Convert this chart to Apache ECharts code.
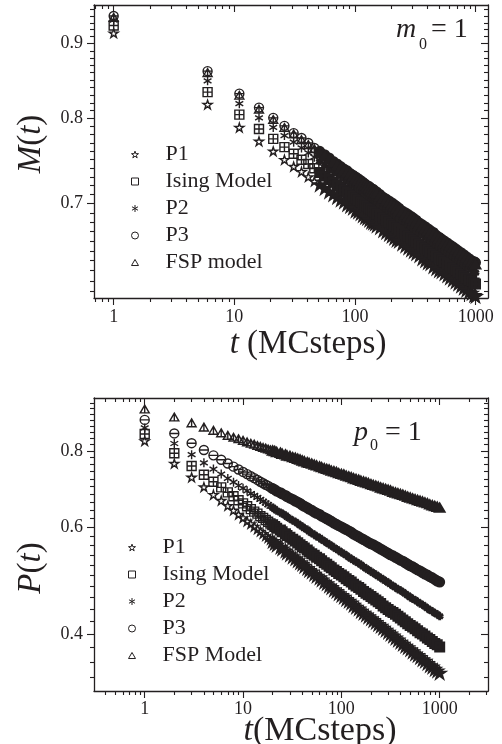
<!DOCTYPE html>
<html>
<head>
<meta charset="utf-8">
<script src="https://cdn.jsdelivr.net/npm/echarts@6/dist/echarts.min.js"></script>
<style>
html, body { margin: 0; padding: 0; background: #fff; }
#chart { width: 502px; height: 744px; }
</style>
</head>
<body>
<div id="chart"></div>
<script>
// ---- upper panel: M(t), m0 = 1 (t in MC steps) ----
const tM = [1, 6, 11, 16, 21, 26, 31, 36, 41, 46, 51, 56, 61, 66, 71, 76, 81, 86, 91, 96,
    101, 106, 111, 116, 121, 126, 131, 136, 141, 146, 151, 161, 171, 181, 191, 201, 211, 221, 231, 246,
    261, 276, 291, 306, 321, 341, 361, 381, 401, 421, 446, 471, 496, 521, 551, 581, 611, 646, 681, 716,
    756, 796, 836, 881, 926, 971, 996];
const mP1 = [
    0.915, 0.818, 0.789, 0.772, 0.760, 0.750, 0.742, 0.736, 0.730, 0.725,
    0.721, 0.717, 0.713, 0.710, 0.707, 0.704, 0.702, 0.699, 0.697, 0.695,
    0.692, 0.691, 0.689, 0.687, 0.685, 0.684, 0.682, 0.680, 0.679, 0.678,
    0.676, 0.674, 0.671, 0.669, 0.667, 0.665, 0.663, 0.661, 0.660, 0.657,
    0.655, 0.653, 0.651, 0.649, 0.647, 0.645, 0.642, 0.640, 0.638, 0.637,
    0.634, 0.632, 0.630, 0.629, 0.627, 0.625, 0.623, 0.621, 0.619, 0.617,
    0.615, 0.613, 0.611, 0.609, 0.608, 0.606, 0.605];
const mIsing = [
    0.926, 0.834, 0.805, 0.787, 0.775, 0.765, 0.757, 0.750, 0.745, 0.740,
    0.735, 0.731, 0.727, 0.724, 0.721, 0.718, 0.715, 0.713, 0.710, 0.708,
    0.706, 0.704, 0.702, 0.700, 0.699, 0.697, 0.695, 0.694, 0.692, 0.691,
    0.689, 0.687, 0.684, 0.682, 0.680, 0.678, 0.676, 0.674, 0.672, 0.670,
    0.668, 0.665, 0.663, 0.661, 0.659, 0.657, 0.655, 0.653, 0.651, 0.649,
    0.647, 0.645, 0.643, 0.641, 0.639, 0.637, 0.635, 0.633, 0.631, 0.629,
    0.627, 0.625, 0.623, 0.621, 0.620, 0.618, 0.617];
const mP2 = [
    0.934, 0.849, 0.819, 0.801, 0.789, 0.779, 0.771, 0.764, 0.758, 0.753,
    0.748, 0.744, 0.740, 0.737, 0.734, 0.731, 0.728, 0.726, 0.723, 0.721,
    0.719, 0.717, 0.715, 0.713, 0.711, 0.709, 0.708, 0.706, 0.705, 0.703,
    0.702, 0.699, 0.697, 0.694, 0.692, 0.690, 0.688, 0.686, 0.684, 0.682,
    0.680, 0.677, 0.675, 0.673, 0.671, 0.669, 0.667, 0.665, 0.663, 0.661,
    0.658, 0.656, 0.654, 0.652, 0.650, 0.648, 0.646, 0.644, 0.642, 0.640,
    0.638, 0.636, 0.634, 0.633, 0.631, 0.629, 0.628];
const mP3 = [
    0.940, 0.862, 0.832, 0.814, 0.801, 0.791, 0.782, 0.776, 0.770, 0.764,
    0.760, 0.756, 0.752, 0.748, 0.745, 0.742, 0.739, 0.737, 0.734, 0.732,
    0.730, 0.728, 0.726, 0.724, 0.722, 0.720, 0.719, 0.717, 0.716, 0.714,
    0.713, 0.710, 0.707, 0.705, 0.703, 0.701, 0.699, 0.697, 0.695, 0.692,
    0.690, 0.688, 0.686, 0.684, 0.682, 0.679, 0.677, 0.675, 0.673, 0.671,
    0.669, 0.666, 0.664, 0.662, 0.660, 0.658, 0.656, 0.654, 0.652, 0.650,
    0.648, 0.646, 0.644, 0.642, 0.640, 0.639, 0.638];
const mFSP = [
    0.938, 0.860, 0.830, 0.812, 0.799, 0.789, 0.781, 0.774, 0.768, 0.763,
    0.758, 0.754, 0.750, 0.747, 0.743, 0.740, 0.738, 0.735, 0.733, 0.730,
    0.728, 0.726, 0.724, 0.722, 0.720, 0.719, 0.717, 0.715, 0.714, 0.712,
    0.711, 0.708, 0.706, 0.703, 0.701, 0.699, 0.697, 0.695, 0.693, 0.691,
    0.688, 0.686, 0.684, 0.682, 0.680, 0.678, 0.675, 0.673, 0.671, 0.669,
    0.667, 0.665, 0.663, 0.661, 0.659, 0.657, 0.655, 0.653, 0.651, 0.649,
    0.647, 0.645, 0.643, 0.641, 0.639, 0.637, 0.636];

// ---- lower panel: P(t), p0 = 1 ----
const tP = [1, 2, 3, 4, 5, 6, 7, 8, 9, 10, 11, 12, 13, 14, 15, 16, 17, 18, 19, 20,
    21, 22, 24, 25, 27, 28, 30, 32, 34, 36,
    38, 40, 42, 45, 47, 50, 53, 56, 60, 63,
    67, 71, 75, 79, 84, 89, 94, 100, 106, 112,
    119, 126, 133, 141, 150, 158, 168, 178, 188, 200,
    211, 224, 237, 251, 266, 282, 299, 316, 335, 355,
    376, 398, 422, 447, 473, 501, 531, 562, 596, 631,
    668, 708, 750, 794, 841, 891, 944, 1000];
const pP1 = [
    0.831, 0.763, 0.724, 0.698, 0.678, 0.663, 0.650, 0.639, 0.629, 0.621,
    0.613, 0.607, 0.601, 0.595, 0.590, 0.585, 0.580, 0.576, 0.572, 0.568,
    0.564, 0.560, 0.556, 0.552, 0.548, 0.544, 0.540, 0.536, 0.532, 0.528,
    0.524, 0.521, 0.517, 0.513, 0.509, 0.506, 0.502, 0.498, 0.495, 0.491,
    0.487, 0.484, 0.480, 0.477, 0.473, 0.470, 0.466, 0.463, 0.460, 0.456,
    0.453, 0.450, 0.446, 0.443, 0.440, 0.436, 0.433, 0.430, 0.427, 0.424,
    0.421, 0.418, 0.415, 0.412, 0.409, 0.406, 0.403, 0.400, 0.397, 0.394,
    0.391, 0.388, 0.385, 0.382, 0.380, 0.377, 0.374, 0.371, 0.369, 0.366,
    0.363, 0.361, 0.358, 0.355, 0.353, 0.350, 0.348, 0.345];
const pIsing = [
    0.853, 0.793, 0.756, 0.731, 0.712, 0.697, 0.684, 0.674, 0.664, 0.656,
    0.649, 0.642, 0.636, 0.631, 0.625, 0.621, 0.616, 0.612, 0.608, 0.605,
    0.601, 0.597, 0.593, 0.589, 0.585, 0.581, 0.577, 0.573, 0.569, 0.565,
    0.561, 0.557, 0.554, 0.550, 0.546, 0.542, 0.539, 0.535, 0.532, 0.528,
    0.524, 0.521, 0.517, 0.514, 0.510, 0.507, 0.503, 0.500, 0.497, 0.493,
    0.490, 0.487, 0.483, 0.480, 0.477, 0.474, 0.470, 0.467, 0.464, 0.461,
    0.458, 0.455, 0.452, 0.449, 0.445, 0.442, 0.439, 0.436, 0.434, 0.431,
    0.428, 0.425, 0.422, 0.419, 0.416, 0.413, 0.411, 0.408, 0.405, 0.402,
    0.400, 0.397, 0.394, 0.392, 0.389, 0.386, 0.384, 0.381];
const pP2 = [
    0.873, 0.823, 0.789, 0.765, 0.747, 0.733, 0.721, 0.711, 0.702, 0.695,
    0.688, 0.681, 0.676, 0.671, 0.666, 0.661, 0.657, 0.653, 0.649, 0.646,
    0.642, 0.638, 0.634, 0.631, 0.627, 0.623, 0.619, 0.615, 0.612, 0.608,
    0.604, 0.601, 0.597, 0.594, 0.590, 0.586, 0.583, 0.579, 0.576, 0.572,
    0.569, 0.565, 0.562, 0.559, 0.555, 0.552, 0.549, 0.545, 0.542, 0.539,
    0.535, 0.532, 0.529, 0.526, 0.523, 0.520, 0.516, 0.513, 0.510, 0.507,
    0.504, 0.501, 0.498, 0.495, 0.492, 0.489, 0.486, 0.483, 0.480, 0.477,
    0.474, 0.472, 0.469, 0.466, 0.463, 0.460, 0.457, 0.455, 0.452, 0.449,
    0.447, 0.444, 0.441, 0.438, 0.436, 0.433, 0.431, 0.428];
const pP3 = [
    0.900, 0.855, 0.824, 0.803, 0.787, 0.774, 0.763, 0.754, 0.746, 0.739,
    0.733, 0.727, 0.722, 0.717, 0.712, 0.708, 0.704, 0.701, 0.697, 0.694,
    0.691, 0.687, 0.683, 0.680, 0.676, 0.673, 0.669, 0.666, 0.662, 0.659,
    0.656, 0.652, 0.649, 0.645, 0.642, 0.639, 0.635, 0.632, 0.629, 0.625,
    0.622, 0.619, 0.616, 0.613, 0.609, 0.606, 0.603, 0.600, 0.597, 0.594,
    0.591, 0.588, 0.584, 0.581, 0.578, 0.575, 0.572, 0.569, 0.566, 0.563,
    0.561, 0.558, 0.555, 0.552, 0.549, 0.546, 0.543, 0.540, 0.538, 0.535,
    0.532, 0.529, 0.527, 0.524, 0.521, 0.518, 0.516, 0.513, 0.510, 0.508,
    0.505, 0.502, 0.500, 0.497, 0.495, 0.492, 0.489, 0.487];
const pFSP = [
    0.938, 0.910, 0.890, 0.876, 0.865, 0.857, 0.849, 0.843, 0.838, 0.833,
    0.828, 0.824, 0.821, 0.817, 0.814, 0.811, 0.809, 0.806, 0.804, 0.801,
    0.799, 0.796, 0.794, 0.791, 0.789, 0.786, 0.784, 0.781, 0.779, 0.776,
    0.774, 0.771, 0.769, 0.766, 0.764, 0.762, 0.759, 0.757, 0.754, 0.752,
    0.749, 0.747, 0.745, 0.742, 0.740, 0.738, 0.735, 0.733, 0.731, 0.728,
    0.726, 0.724, 0.721, 0.719, 0.717, 0.714, 0.712, 0.710, 0.708, 0.705,
    0.703, 0.701, 0.699, 0.696, 0.694, 0.692, 0.690, 0.688, 0.685, 0.683,
    0.681, 0.679, 0.677, 0.675, 0.672, 0.670, 0.668, 0.666, 0.664, 0.662,
    0.660, 0.658, 0.656, 0.653, 0.651, 0.649, 0.647, 0.645];

const namesTop = ['P1', 'Ising Model', 'P2', 'P3', 'FSP model'];
const namesBottom = ['P1', 'Ising Model', 'P2', 'P3', 'FSP Model'];
const xTickLabels = [1, 10, 100, 1000];
const yTickLabelsTop = [0.7, 0.8, 0.9];
const yTickLabelsBottom = [0.4, 0.6, 0.8];

// axis extents (both axes logarithmic)
const rangeTopX = [0.687, 1264], rangeTopY = [0.6035, 0.9564];
const rangeBotX = [0.305, 3100], rangeBotY = [0.3224, 0.9778];

const lg = Math.log10;
const INK = '#231f20';
const FONT = '"Liberation Serif", "Times New Roman", serif';

// symbols: data marks carry an interior stroke, legend marks are plain
const SYM = {
    star: 'path://M50,2L61,36L97,36L68,57L79,92L50,70L21,92L32,57L3,36L39,36Z',
    square: 'path://M0,0H10V10H0Z',
    squarePlus: 'path://M0,0H10V10H0Z M5,0V10 M0,5H10',
    asterisk: 'path://M5,0V10 M0.67,2.5L9.33,7.5 M0.67,7.5L9.33,2.5',
    circle: 'path://M10,5A5,5,0,1,1,0,5A5,5,0,1,1,10,5Z',
    circleBar: 'path://M10,5A5,5,0,1,1,0,5A5,5,0,1,1,10,5Z M0,5H10',
    triangle: 'path://M5,0L10,8.66L0,8.66Z',
    triangleBar: 'path://M5,0L10,8.66L0,8.66Z M5,0V8.66'
};
const dataSymbols = [SYM.star, SYM.squarePlus, SYM.asterisk, SYM.circleBar, SYM.triangleBar];
const legendSymbols = [SYM.star, SYM.square, SYM.asterisk, SYM.circle, SYM.triangle];

function logMinors(lo, hi) {
    const out = [];
    for (let e = -1; e <= 3; e++) {
        for (let m = 2; m <= 9; m++) {
            const v = m * Math.pow(10, e);
            if (v > lo && v < hi) out.push(lg(v));
        }
    }
    return out;
}
function linMinors(lo, hi, step, majors) {
    const out = [];
    for (let i = Math.ceil(lo / step); i * step < hi; i++) {
        const v = +(i * step).toFixed(3);
        if (!majors.some(m => Math.abs(m - v) < 1e-9)) out.push(lg(v));
    }
    return out;
}

const fmtX = v => String(Math.round(Math.pow(10, v)));
const fmtY = v => Math.pow(10, v).toFixed(1);

function makeAxis(gridIndex, range, position, ticks, tickLen, showLine, labels, fmt, margin) {
    const inside = position === 'top' || position === 'right';
    return {
        type: 'value', gridIndex, position,
        min: lg(range[0]), max: lg(range[1]),
        splitLine: { show: false },
        axisLine: { show: showLine, onZero: false, lineStyle: { color: INK, width: 1.3 } },
        axisTick: { show: true, inside, length: tickLen, customValues: ticks,
            lineStyle: { color: INK, width: 1.1 } },
        axisLabel: labels
            ? { show: true, customValues: labels.map(lg), formatter: fmt, margin,
                color: INK, fontFamily: FONT, fontSize: 18 }
            : { show: false }
    };
}

// four sides per panel, each with a major and a minor tick axis
function panelAxes(grid, xr, yr, yLabels, yStep, xMargin) {
    const xMaj = xTickLabels.map(lg);
    const xMin = logMinors(xr[0], xr[1]);
    const yMaj = yLabels.map(lg);
    const yMin = linMinors(yr[0], yr[1], yStep, yLabels);
    return {
        x: [
            makeAxis(grid, xr, 'bottom', xMaj, 7, true, xTickLabels, fmtX, xMargin),
            makeAxis(grid, xr, 'bottom', xMin, 4, false),
            makeAxis(grid, xr, 'top', xMaj, 7, true),
            makeAxis(grid, xr, 'top', xMin, 4, false)
        ],
        y: [
            makeAxis(grid, yr, 'left', yMaj, 7, true, yLabels, fmtY, 11),
            makeAxis(grid, yr, 'left', yMin, 4, false),
            makeAxis(grid, yr, 'right', yMaj, 7, true),
            makeAxis(grid, yr, 'right', yMin, 4, false)
        ]
    };
}
const axTop = panelAxes(0, rangeTopX, rangeTopY, yTickLabelsTop, 0.01, 10);
const axBot = panelAxes(1, rangeBotX, rangeBotY, yTickLabelsBottom, 0.02, 9);

// past these t the marks pile up into a solid band: that part is drawn filled and heavy
const solidFromTop = 50, solidFromBottom = 20;

function scatterPart(name, pts, symbol, axisIndex, solid) {
    return {
        type: 'scatter', name,
        xAxisIndex: axisIndex, yAxisIndex: axisIndex,
        data: pts,
        symbol, symbolSize: solid ? 8 : 9, symbolKeepAspect: true,
        itemStyle: solid
            ? { color: INK, borderColor: INK, borderWidth: 3, opacity: 1 }
            : { color: 'rgba(0,0,0,0)', borderColor: INK, borderWidth: 1.4, opacity: 1 },
        emphasis: { disabled: true },
        silent: true
    };
}
function addSeries(out, names, t, valsList, axisIndex, solidFrom) {
    names.forEach((name, k) => {
        const sparse = [], dense = [];
        t.forEach((tt, i) => (tt >= solidFrom ? dense : sparse).push([lg(tt), lg(valsList[k][i])]));
        out.push(scatterPart(name, sparse, dataSymbols[k], axisIndex, false));
        out.push(scatterPart(name, dense, dataSymbols[k], axisIndex, true));
    });
}
const series = [];
addSeries(series, namesTop, tM, [mP1, mIsing, mP2, mP3, mFSP], 0, solidFromTop);
addSeries(series, namesBottom, tP, [pP1, pIsing, pP2, pP3, pFSP], 4, solidFromBottom);

function legendFor(names, left, top) {
    return {
        orient: 'vertical', left, top, padding: 0, itemGap: 0,
        itemWidth: 7, itemHeight: 7, symbolKeepAspect: true, selectedMode: false,
        data: names.map((n, k) => ({ name: n, icon: legendSymbols[k] })),
        itemStyle: { color: 'rgba(0,0,0,0)', borderColor: INK, borderWidth: 1 },
        textStyle: { fontFamily: FONT, fontSize: 22, color: INK, lineHeight: 27, padding: [0, 0, 0, 22] }
    };
}

function label(x, y, text, size, opts) {
    return Object.assign({
        type: 'text', x, y, silent: true,
        style: {
            text, fill: INK, font: size + 'px ' + FONT,
            align: 'left', verticalAlign: 'middle', textAlign: 'left', textVerticalAlign: 'middle',
            rich: { i: { fontStyle: 'italic', fontSize: size, fontFamily: FONT, fill: INK, color: INK } }
        }
    }, opts || {});
}
function titleText(x, y, text, size, rot) {
    const g = label(x, y, text, size, rot ? { rotation: Math.PI / 2 } : {});
    g.style.align = 'center';
    g.style.textAlign = 'center';
    return g;
}

const chart = echarts.init(document.getElementById('chart'), null, { renderer: 'canvas' });
chart.setOption({
    animation: false,
    backgroundColor: '#fff',
    grid: [
        { left: 94, right: 14, top: 5, height: 293, outerBoundsMode: 'none' },
        { left: 94, right: 14, top: 398, height: 293, outerBoundsMode: 'none' }
    ],
    xAxis: axTop.x.concat(axBot.x),
    yAxis: axTop.y.concat(axBot.y),
    legend: [legendFor(namesTop, 131, 141), legendFor(namesBottom, 128, 534)],
    series,
    graphic: [
        titleText(31, 144, '{i|M}({i|t})', 33, true),
        titleText(308, 344, '{i|t} (MCsteps)', 33, false),
        titleText(31, 568, '{i|P}({i|t})', 33, true),
        titleText(320, 731, '{i|t}(MCsteps)', 34, false),
        label(396, 30, '{i|m}', 28),
        label(419, 45, '0', 16),
        label(431, 30, '= 1', 28),
        label(354, 433, '{i|p}', 28),
        label(370, 446, '0', 16),
        label(385, 433, '= 1', 28)
    ]
});
</script>
</body>
</html>
